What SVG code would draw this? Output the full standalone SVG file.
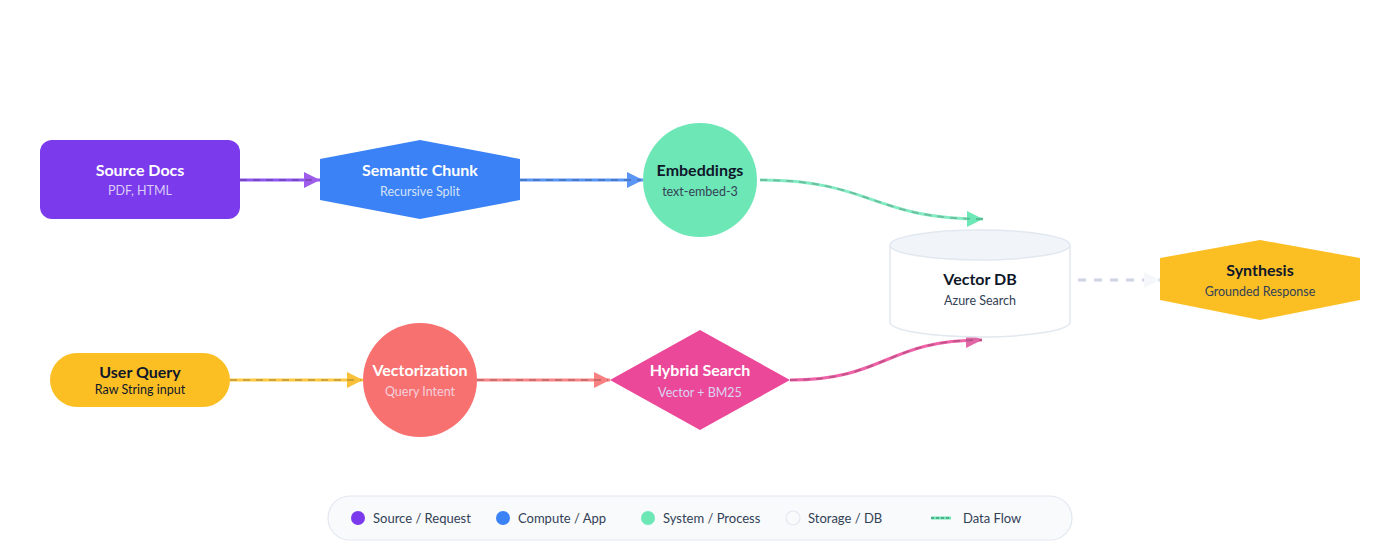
<svg xmlns="http://www.w3.org/2000/svg" width="1400" height="560" viewBox="0 0 1400 560">
<style>
.t{font-family:Lato,"Liberation Sans",sans-serif;font-weight:700;font-size:16px;text-anchor:middle}
.s{font-family:Lato,"Liberation Sans",sans-serif;font-size:12.5px;text-anchor:middle}
.w{fill:#ffffff}.d{fill:#0f172a}.sd{fill:#334155}
.base{fill:none;stroke-width:3;stroke-opacity:0.85}
.flow{fill:none;stroke:#000;stroke-opacity:0.18;stroke-width:2;stroke-dasharray:7 6}
.lg{font-family:Lato,"Liberation Sans",sans-serif;font-size:13px;fill:#334155}
</style>
<defs>
<marker id="aP" viewBox="0 0 10 10" refX="10" refY="5" markerUnits="userSpaceOnUse" markerWidth="16" markerHeight="17" orient="auto"><path d="M0,0 L10,5 L0,10 z" fill="#9d5cea"/></marker>
<marker id="aB" viewBox="0 0 10 10" refX="10" refY="5" markerUnits="userSpaceOnUse" markerWidth="16" markerHeight="17" orient="auto"><path d="M0,0 L10,5 L0,10 z" fill="#5b95f5"/></marker>
<marker id="aG" viewBox="0 0 10 10" refX="10" refY="5" markerUnits="userSpaceOnUse" markerWidth="16" markerHeight="17" orient="auto"><path d="M0,0 L10,5 L0,10 z" fill="#6ee7b7"/></marker>
<marker id="aY" viewBox="0 0 10 10" refX="10" refY="5" markerUnits="userSpaceOnUse" markerWidth="16" markerHeight="17" orient="auto"><path d="M0,0 L10,5 L0,10 z" fill="#f9c13a"/></marker>
<marker id="aR" viewBox="0 0 10 10" refX="10" refY="5" markerUnits="userSpaceOnUse" markerWidth="16" markerHeight="17" orient="auto"><path d="M0,0 L10,5 L0,10 z" fill="#f88080"/></marker>
<marker id="aK" viewBox="0 0 10 10" refX="10" refY="5" markerUnits="userSpaceOnUse" markerWidth="16" markerHeight="17" orient="auto"><path d="M0,0 L10,5 L0,10 z" fill="#e166a6"/></marker>
<marker id="aS" viewBox="0 0 10 10" refX="10" refY="5" markerUnits="userSpaceOnUse" markerWidth="16" markerHeight="17" orient="auto"><path d="M0,0 L10,5 L0,10 z" fill="#f5f7fa"/></marker>
</defs>

<g id="connectors">
<path class="base" stroke="#7c3aed" d="M240,180 L320,180" marker-end="url(#aP)"/>
<path class="flow" d="M240,180 L318,180"/>
<path class="base" stroke="#3b82f6" d="M520,180 L643,180" marker-end="url(#aB)"/>
<path class="flow" d="M520,180 L641,180"/>
<path class="base" stroke="#6ee7b7" d="M760,180 C872,180 872,219 983,219" marker-end="url(#aG)"/>
<path class="flow" d="M760,180 C872,180 872,219 983,219"/>
<path class="base" stroke="#fbbf24" d="M230,380 L363,380" marker-end="url(#aY)"/>
<path class="flow" d="M230,380 L361,380"/>
<path class="base" stroke="#f87171" d="M477,380 L610,380" marker-end="url(#aR)"/>
<path class="flow" d="M477,380 L608,380"/>
<path class="base" stroke="#ec4899" d="M790,380 C886,380 886,340 982,340" marker-end="url(#aK)"/>
<path class="flow" d="M790,380 C886,380 886,340 982,340"/>
<path fill="none" stroke="#cbd5e1" stroke-width="3" stroke-dasharray="8 8" d="M1078,280 L1160,280" marker-end="url(#aS)"/>
</g>

<g id="source-docs">
<rect x="40" y="140" width="200" height="79" rx="12" fill="#7c3aed"/>
<text class="t w" x="140" y="176">Source Docs</text>
<text class="s" x="140" y="195" fill="#d8ccf5">PDF, HTML</text>
</g>

<g id="semantic-chunk">
<polygon points="320,159 420,140 520,159 520,200 420,219 320,200" fill="#3b82f6"/>
<text class="t w" x="420" y="176">Semantic Chunk</text>
<text class="s" x="420" y="196" fill="#d4e2f7">Recursive Split</text>
</g>

<g id="embeddings">
<circle cx="700" cy="180" r="57" fill="#6ee7b7"/>
<text class="t d" x="700" y="176">Embeddings</text>
<text class="s sd" x="700" y="196">text-embed-3</text>
</g>

<g id="vector-db">
<path d="M890,245 L890,322 A90,15 0 0 0 1070,322 L1070,245" fill="#ffffff" stroke="#e2e8f0" stroke-width="1.5"/>
<ellipse cx="980" cy="245" rx="90" ry="15" fill="#f1f5f9" stroke="#e2e8f0" stroke-width="1.5"/>
<text class="t d" x="980" y="285">Vector DB</text>
<text class="s sd" x="980" y="305">Azure Search</text>
</g>

<g id="synthesis">
<polygon points="1160,258 1260,240 1360,258 1360,300 1260,320 1160,300" fill="#fbbf24"/>
<text class="t d" x="1260" y="276">Synthesis</text>
<text class="s sd" x="1260" y="296">Grounded Response</text>
</g>

<g id="user-query">
<rect x="50" y="353" width="180" height="54" rx="27" fill="#fbbf24"/>
<text class="t d" x="140" y="378">User Query</text>
<text class="s d" x="140" y="394">Raw String input</text>
</g>

<g id="vectorization">
<circle cx="420" cy="380" r="57" fill="#f87171"/>
<text class="t w" x="420" y="376">Vectorization</text>
<text class="s" x="420" y="396" fill="#f4d0dc">Query Intent</text>
</g>

<g id="hybrid-search">
<polygon points="610,380 700,330 790,380 700,430" fill="#ec4899"/>
<text class="t w" x="700" y="376">Hybrid Search</text>
<text class="s" x="700" y="397" fill="#d9d5f0">Vector + BM25</text>
</g>

<g id="legend">
<rect x="328" y="496" width="744" height="44" rx="22" fill="#f8fafc" stroke="#e2e8f0" stroke-width="1.2"/>
<circle cx="358" cy="518" r="7" fill="#7c3aed"/>
<text class="lg" x="373" y="522.5">Source / Request</text>
<circle cx="503" cy="518" r="7" fill="#3b82f6"/>
<text class="lg" x="518" y="522.5">Compute / App</text>
<circle cx="648" cy="518" r="7" fill="#6ee7b7"/>
<text class="lg" x="663" y="522.5">System / Process</text>
<circle cx="793" cy="518" r="7" fill="#f8fafc" stroke="#e2e8f0" stroke-width="1.2"/>
<text class="lg" x="808" y="522.5">Storage / DB</text>
<line x1="931" y1="518" x2="951" y2="518" stroke="#6ee7b7" stroke-width="3"/>
<line x1="931" y1="518" x2="951" y2="518" stroke="#000" stroke-opacity="0.25" stroke-width="2" stroke-dasharray="3 2"/>
<text class="lg" x="963" y="522.5">Data Flow</text>
</g>
</svg>
